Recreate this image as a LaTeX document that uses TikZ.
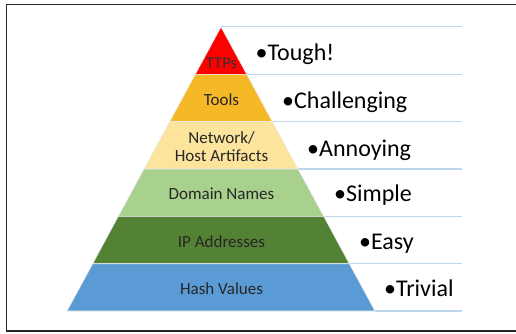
\documentclass[tikz,border=0pt]{standalone}
\usepackage{fontspec}
\setmainfont{Carlito}
\definecolor{cRed}{HTML}{FF0000}
\definecolor{cGold}{HTML}{F5B928}
\definecolor{cCream}{HTML}{FDE49C}
\definecolor{cLGreen}{HTML}{A9D18E}
\definecolor{cDGreen}{HTML}{548235}
\definecolor{cBlue}{HTML}{5B9BD5}
\definecolor{cLine}{HTML}{BDD7EE}
\definecolor{cText}{HTML}{262626}
\begin{document}
\begin{tikzpicture}[x=1pt,y=-1pt,
  layer/.style={draw=white!92!black,line width=0.6pt},
  sepline/.style={draw=cLine,line width=1.5pt},
  plabel/.style={inner sep=0pt,anchor=base,text=cText,font=\fontsize{17}{18.4}\selectfont},
  rlabel/.style={inner sep=0pt,anchor=base west,text=black,font=\fontsize{24}{26}\selectfont},
  frameline/.style={draw=black!85,line width=1.4pt}]
\useasboundingbox (0,0) rectangle (516,333);
% pyramid corners
\coordinate (A) at (221,27);
\coordinate (L1) at (195.3,74.3);  \coordinate (R1) at (246.7,74.3);
\coordinate (L2) at (169.7,121.7); \coordinate (R2) at (272.3,121.7);
\coordinate (L3) at (144,169);     \coordinate (R3) at (298,169);
\coordinate (L4) at (118.3,216.3); \coordinate (R4) at (323.7,216.3);
\coordinate (L5) at (92.7,263.7);  \coordinate (R5) at (349.3,263.7);
\coordinate (L6) at (67,311);      \coordinate (R6) at (375,311);
% line ends
\coordinate (E0) at (462,26.5);
\coordinate (E1) at (462,74.3);
\coordinate (E2) at (462,121.7);
\coordinate (E3) at (462,169);
\coordinate (E4) at (462,216.3);
\coordinate (E5) at (462,263.7);
\coordinate (E6) at (462,311);
% separator lines
\draw[sepline] (A |- E0) -- (E0);
\draw[sepline] (R1) -- (E1);
\draw[sepline] (R2) -- (E2);
\draw[sepline] (R3) -- (E3);
\draw[sepline] (R4) -- (E4);
\draw[sepline] (R5) -- (E5);
\draw[sepline] (R6) -- (E6);
% layers
\filldraw[layer,fill=cRed] (A) -- (R1) -- (L1) -- cycle;
\filldraw[layer,fill=cGold] (L1) -- (R1) -- (R2) -- (L2) -- cycle;
\filldraw[layer,fill=cCream] (L2) -- (R2) -- (R3) -- (L3) -- cycle;
\filldraw[layer,fill=cLGreen] (L3) -- (R3) -- (R4) -- (L4) -- cycle;
\filldraw[layer,fill=cDGreen] (L4) -- (R4) -- (R5) -- (L5) -- cycle;
\filldraw[layer,fill=cBlue] (L5) -- (R5) -- (R6) -- (L6) -- cycle;
% pyramid labels
\node[plabel,font=\fontsize{16.5}{18}\selectfont,text=black!80] (ttps) at (221.5,68.3) {TTPs};
\node[plabel] (tools) at (221.5,105) {Tools};
\node[plabel] (net1) at (221.5,143.3) {Network/};
\node[plabel] (net2) at (221.5,161.7) {Host Artifacts};
\node[plabel] (dom) at (221.5,199.3) {Domain Names};
\node[plabel] (ip) at (221.5,247.3) {IP Addresses};
\node[plabel] (hash) at (221.5,294.3) {Hash Values};
% right labels
\node[rlabel] (tough) at (255.5,60) {•Tough!};
\node[rlabel] (chal) at (282,108.3) {•Challenging};
\node[rlabel] (ann) at (307,156) {•Annoying};
\node[rlabel] (simp) at (334,201) {•Simple};
\node[rlabel] (easy) at (359,249.3) {•Easy};
\node[rlabel] (triv) at (384,296.7) {•Trivial};
% frame
\coordinate (F1) at (516,4.2);
\coordinate (F2) at (6.2,4.2);
\coordinate (F3) at (6.2,331);
\coordinate (F4) at (516,331);
\draw[frameline] (F1) -- (F2) -- (F3) -- (F4);
\end{tikzpicture}
\end{document}
